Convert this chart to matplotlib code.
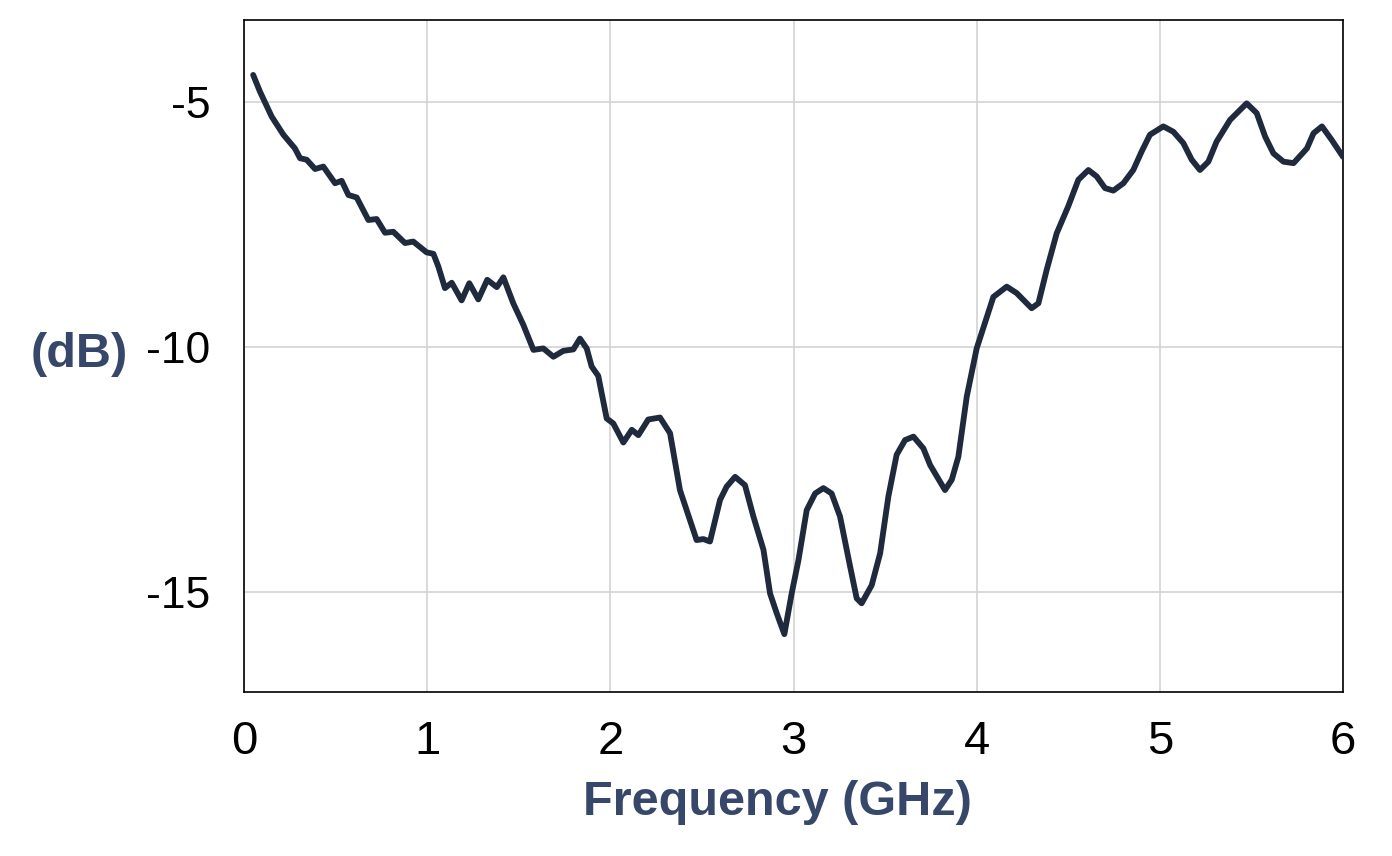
import matplotlib.pyplot as plt

freq = [0.05, 0.087, 0.151, 0.215, 0.278, 0.306, 0.342, 0.388, 0.433, 0.497, 0.533, 0.570, 0.615,
        0.679, 0.724, 0.770, 0.815, 0.879, 0.924, 0.997, 1.034, 1.061, 1.097, 1.134, 1.188, 1.230,
        1.279, 1.328, 1.380, 1.416, 1.470, 1.525, 1.580, 1.634, 1.689, 1.743, 1.798, 1.834, 1.871,
        1.898, 1.934, 1.980, 2.016, 2.071, 2.117, 2.153, 2.207, 2.271, 2.326, 2.380, 2.471, 2.508,
        2.544, 2.599, 2.635, 2.681, 2.735, 2.781, 2.836, 2.872, 2.908, 2.950, 2.990, 3.027, 3.072,
        3.118, 3.163, 3.208, 3.254, 3.309, 3.345, 3.372, 3.427, 3.473, 3.518, 3.563, 3.609, 3.655,
        3.709, 3.746, 3.827, 3.864, 3.900, 3.946, 4.000, 4.046, 4.091, 4.164, 4.218, 4.300, 4.337,
        4.382, 4.437, 4.500, 4.555, 4.610, 4.655, 4.701, 4.746, 4.801, 4.855, 4.901, 4.946, 5.019,
        5.074, 5.128, 5.174, 5.219, 5.265, 5.310, 5.383, 5.474, 5.529, 5.575, 5.620, 5.675, 5.730,
        5.803, 5.839, 5.885, 5.939, 6.0]
db = [-4.45, -4.79, -5.30, -5.67, -5.95, -6.15, -6.18, -6.37, -6.32, -6.66, -6.61, -6.90, -6.95,
      -7.41, -7.39, -7.67, -7.65, -7.88, -7.85, -8.07, -8.10, -8.36, -8.80, -8.69, -9.05, -8.70,
      -9.03, -8.63, -8.78, -8.58, -9.11, -9.55, -10.06, -10.03, -10.20, -10.08, -10.05, -9.83, -10.03,
      -10.40, -10.59, -11.46, -11.56, -11.95, -11.69, -11.80, -11.48, -11.44, -11.76, -12.92, -13.94, -13.92,
      -13.97, -13.12, -12.85, -12.65, -12.82, -13.46, -14.14, -15.03, -15.43, -15.86, -15.03, -14.35, -13.33,
      -12.99, -12.88, -12.99, -13.46, -14.48, -15.13, -15.23, -14.86, -14.21, -13.05, -12.20, -11.90, -11.83,
      -12.07, -12.41, -12.92, -12.71, -12.24, -11.01, -10.03, -9.50, -8.98, -8.77, -8.90, -9.21, -9.11,
      -8.43, -7.68, -7.13, -6.59, -6.39, -6.52, -6.76, -6.81, -6.66, -6.39, -6.01, -5.67, -5.50,
      -5.61, -5.84, -6.18, -6.39, -6.22, -5.81, -5.37, -5.03, -5.23, -5.71, -6.05, -6.22, -6.25,
      -5.95, -5.64, -5.50, -5.78, -6.12]

xticks = [0, 1, 2, 3, 4, 5, 6]
yticks = [-15, -10, -5]

plt.rcParams['font.family'] = ['Liberation Sans', 'DejaVu Sans']

fig = plt.figure(figsize=(13.92, 8.56), dpi=100)
ax = fig.add_axes([0.1753, 0.1916, 0.7895, 0.785])

ax.plot(freq, db, color='#1f2a3c', linewidth=4.2, solid_capstyle='round',
        solid_joinstyle='round', zorder=3)

ax.set_xlim(0, 6)
ax.set_ylim(-17.04, -3.33)
ax.set_xticks(xticks)
ax.set_yticks(yticks)
ax.set_xticklabels([str(t) for t in xticks])
ax.set_yticklabels([str(t) for t in yticks])
ax.tick_params(length=0, colors='black')
ax.tick_params(axis='x', labelsize=34, pad=20)
ax.tick_params(axis='y', labelsize=32, pad=24)
ax.grid(True, color='#d3d3d3', linewidth=1.2)
ax.set_axisbelow(True)
for s in ax.spines.values():
    s.set_color('black')
    s.set_linewidth(1.2)

fig.text(79 / 1392, 1 - 367 / 856, '(dB)', fontsize=35, fontweight='bold', color='#36476a',
         ha='center', va='baseline')
fig.text(777 / 1392, 1 - 815 / 856, 'Frequency (GHz)', fontsize=35, fontweight='bold',
         color='#36476a', ha='center', va='baseline')

plt.savefig('out.png', dpi=100)
plt.close()
